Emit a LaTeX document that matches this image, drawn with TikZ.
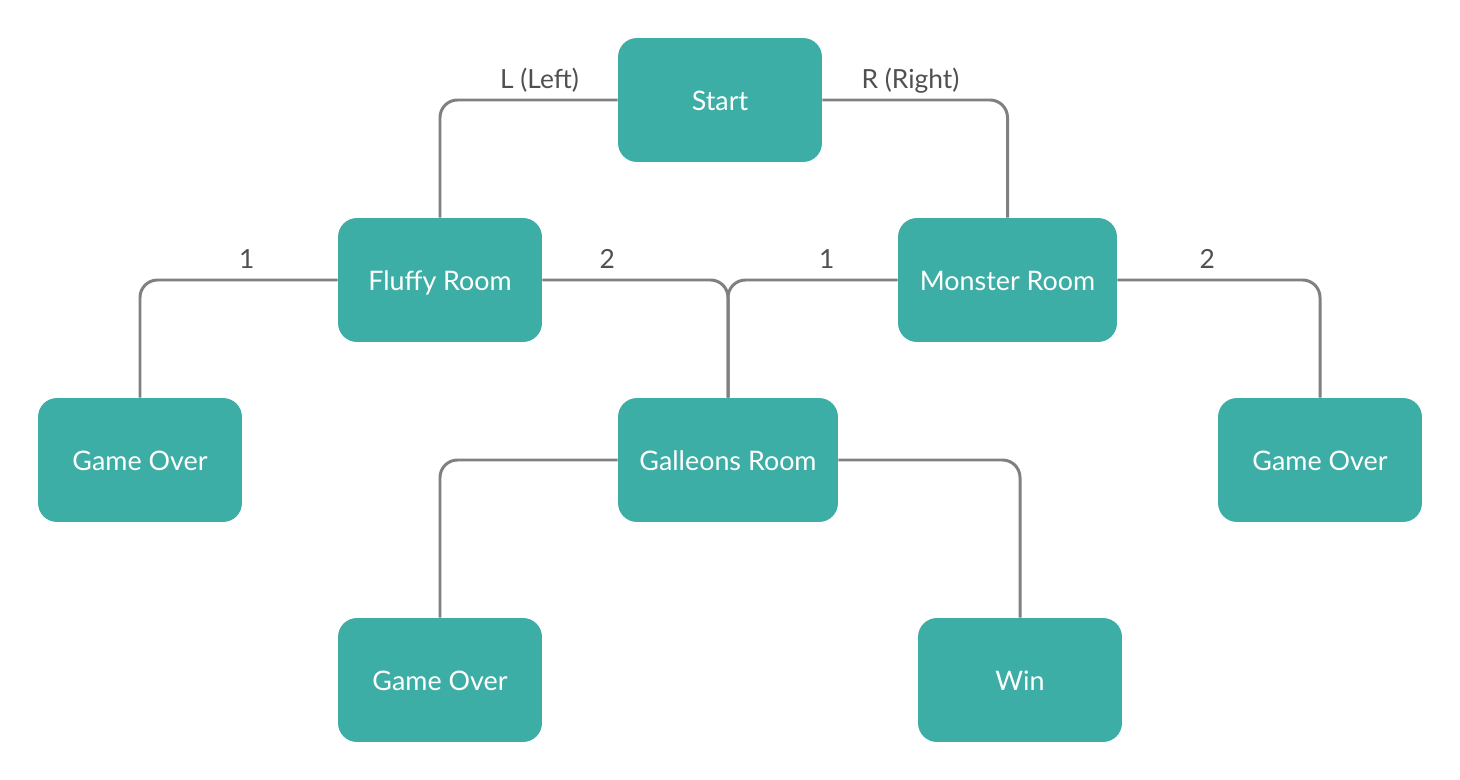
\documentclass[tikz,border=0pt]{standalone}
\usepackage{fontspec}
\setmainfont{Lato}
\definecolor{roomteal}{HTML}{3DAEA5}
\definecolor{wiregray}{HTML}{808080}
\definecolor{labelgray}{HTML}{505050}

\begin{document}
\begin{tikzpicture}[x=0.02cm, y=-0.02cm, room/.style={fill=roomteal, text=white, rounded corners=0.38cm, minimum width=4.08cm, minimum height=2.48cm, inner sep=0pt, text height=11.5pt, text depth=0pt, font=\fontsize{15.3}{18}\selectfont}, wire/.style={wiregray, line width=1.7pt, rounded corners=0.35cm}, lbl/.style={labelgray, text height=1.6ex, text depth=0.5ex, font=\fontsize{15}{18}\selectfont, above=0pt}]
	\useasboundingbox (0,0) rectangle (1460,780);
	\node[room] (start) at (720,100) {Start};
	\node[room] (fluffy) at (440,280) {Fluffy Room};
	\node[room, minimum width=4.38cm] (monster) at (1007.5,280) {Monster Room};
	\node[room] (over1) at (140,460) {Game Over};
	\node[room, minimum width=4.4cm] (galleons) at (728,460) {Galleons Room};
	\node[room] (over2) at (1320,460) {Game Over};
	\node[room] (over3) at (440,680) {Game Over};
	\node[room] (win) at (1020,680) {Win};
	\foreach \a/\b/\t/\p in {start.west/fluffy.north/L (Left)/0.22, start.east/monster.north/R (Right)/0.238, fluffy.west/over1.north/1/0.23, fluffy.east/galleons.north/2/0.175, monster.west/galleons.north/1/0.209, monster.east/over2.north/2/0.222} {\draw[wire] (\a) -| (\b) node[lbl, pos=\p] {\t};}
	\draw[wire] (galleons.west) -| (over3.north);
	\draw[wire] (galleons.east) -| (win.north);
\end{tikzpicture}
\end{document}
